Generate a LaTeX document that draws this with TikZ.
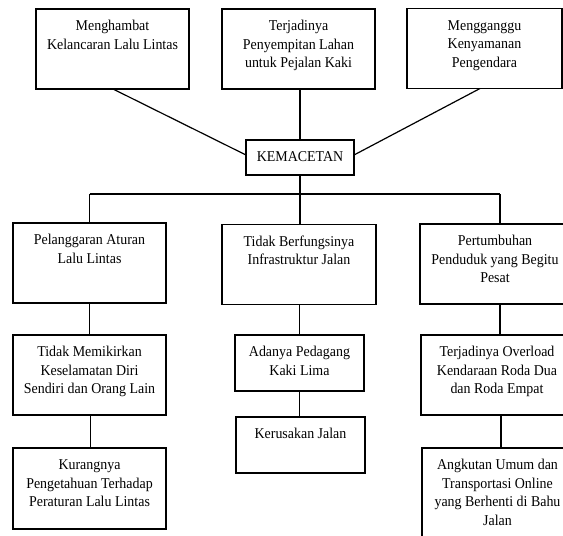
\documentclass[tikz,border=0pt]{standalone}
\usepackage{fontspec}
\setmainfont{Liberation Serif}[FakeStretch=0.93]
\newcommand\bxt[3]{\parbox[c][#2][t]{#1}{\centering\vspace*{8.5pt}\strut#3\par}}
\begin{document}
\begin{tikzpicture}[x=1pt,y=-1pt,
  box/.style={draw, line width=1.2pt, inner sep=0pt, outer sep=0pt, font=\fontsize{15}{18.7}\selectfont},
  conn/.style={line width=1.2pt}]
\useasboundingbox (0,0) rectangle (563,536);
% top row
\node[box] (b1) at (112.5,49) {\bxt{153pt}{80pt}{Menghambat\\Kelancaran Lalu Lintas}};
\node[box] (b2) at (298.5,49) {\bxt{153pt}{80pt}{Terjadinya\\Penyempitan Lahan\\untuk Pejalan Kaki}};
\node[box] (b3) at (484.5,48.5) {\bxt{155pt}{80pt}{Mengganggu\\Kenyamanan\\Pengendara}};
\node[box] (kem) at (300,157.5) {\bxt{108pt}{35pt}{KEMACETAN}};
% second row
\node[box] (p1) at (89.5,263) {\bxt{153pt}{80pt}{Pelanggaran Aturan\\Lalu Lintas}};
\node[box] (p2) at (299,264.5) {\bxt{154pt}{80pt}{Tidak Berfungsinya\\Infrastruktur Jalan}};
\node[box] (p3) at (495,264) {\bxt{150pt}{80pt}{Pertumbuhan\\Penduduk yang Begitu\\Pesat}};
% third row
\node[box] (q1) at (89.5,375) {\bxt{153pt}{80pt}{Tidak Memikirkan\\Keselamatan Diri\\Sendiri dan Orang Lain}};
\node[box] (q2) at (299.5,363) {\bxt{129pt}{56pt}{Adanya Pedagang\\Kaki Lima}};
\node[box] (q3) at (497,375) {\bxt{152pt}{80pt}{Terjadinya Overload\\Kendaraan Roda Dua\\dan Roda Empat}};
% fourth row
\node[box] (r1) at (89.5,488.5) {\bxt{153pt}{81pt}{Kurangnya\\Pengetahuan Terhadap\\Peraturan Lalu Lintas}};
\node[box] (r2) at (300.5,445) {\bxt{129pt}{56pt}{Kerusakan Jalan}};
\node[box] (r3) at (497.5,498) {\bxt{151pt}{100pt}{Angkutan Umum dan\\Transportasi Online\\yang Berhenti di Bahu\\Jalan}};
% connectors top
\draw[conn] ([xshift=0.5pt]b1.south) -- ([yshift=2.5pt]kem.west);
\draw[conn] ([xshift=1.5pt]b2.south) -- (kem.north);
\draw[conn] ([xshift=-4.5pt]b3.south) -- ([yshift=2.5pt]kem.east);
% tree
\coordinate (j) at (300,194);
\draw[conn] (kem.south) -- (j);
\draw[conn] (p1.north |- j) -- ([xshift=5pt]p3.north |- j);
\draw[conn] (p1.north |- j) -- (p1.north);
\draw[conn] ([xshift=1pt]p2.north |- j) -- ([xshift=1pt]p2.north);
\draw[conn] ([xshift=5pt]p3.north |- j) -- ([xshift=5pt]p3.north);
% columns
\draw[conn] (p1.south) -- (q1.north);
\draw[conn] ([xshift=1pt]q1.south) -- ([xshift=1pt]r1.north);
\draw[conn] (q2.north |- p2.south) -- (q2.north);
\draw[conn] (q2.south) -- (q2.south |- r2.north);
\draw[conn] ([xshift=5pt]p3.south) -- ([xshift=5pt]p3.south |- q3.north);
\draw[conn] ([xshift=4pt]q3.south) -- ([xshift=4pt]q3.south |- r3.north);
\end{tikzpicture}
\end{document}
